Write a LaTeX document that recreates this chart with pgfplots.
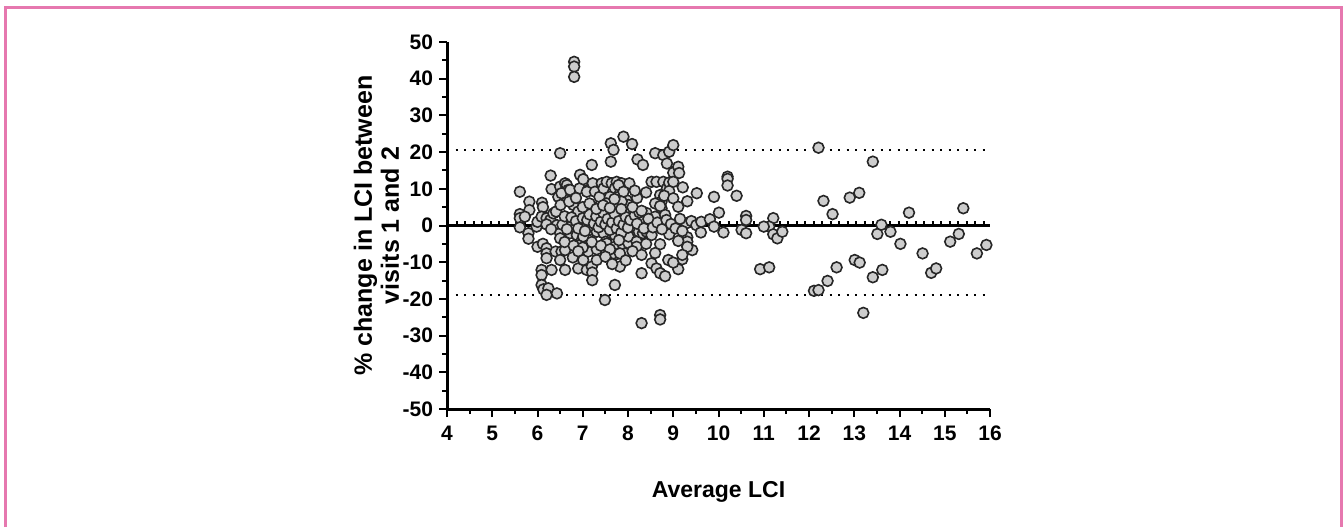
\documentclass[border=0pt]{standalone}
\usepackage{fontspec}
\setmainfont{Liberation Sans}
\usepackage{pgfplots}
\pgfplotsset{compat=1.18}
\definecolor{framepink}{RGB}{230,120,175}
\definecolor{dotfill}{RGB}{205,205,205}

\pgfplotstableread{
x y
5.61 9.2
5.82 6.5
5.82 4.2
5.61 3.1
5.61 2.0
5.72 2.4
5.61 -0.5
5.80 -2.1
5.80 -3.6
5.98 -0.3
6.00 1.0
6.10 6.2
6.12 5.0
6.09 2.4
6.20 2.0
6.28 1.5
6.35 3.3
6.41 3.8
6.29 13.6
6.31 9.9
6.46 7.8
6.50 10.6
6.51 5.6
6.43 0.1
6.50 19.7
6.20 0.3
6.30 -1.0
6.00 -5.8
6.12 -5.0
6.20 -6.2
6.20 -7.6
6.20 -8.9
6.40 -7.1
6.53 -7.1
6.61 -6.7
6.50 -9.4
6.50 -2.1
6.50 -3.5
6.09 -12.1
6.09 -13.5
6.31 -12.1
6.09 -16.2
6.13 -17.4
6.24 -17.1
6.20 -18.9
6.43 -18.5
6.61 -12.1
6.61 11.5
6.65 11.0
6.68 9.7
6.53 8.8
6.72 9.7
6.93 10.1
6.79 5.6
6.90 3.8
6.94 13.8
7.01 12.6
7.12 9.7
6.81 44.6
6.81 43.3
6.81 40.5
6.94 0.6
6.79 0.6
6.70 -0.4
6.72 -2.1
6.87 -2.6
6.98 -4.0
6.94 -5.3
6.78 -8.7
6.90 -11.7
7.01 -9.4
7.20 16.5
7.22 11.5
7.09 9.2
7.27 9.2
7.22 5.1
7.37 7.8
7.42 11.5
7.46 10.1
7.09 0.1
7.16 -1.2
7.31 -1.7
7.46 -2.1
7.01 -3.0
7.12 -7.1
7.09 -12.1
7.20 -11.2
7.21 -12.8
7.21 -14.9
7.31 -9.4
7.31 -6.5
7.51 -4.4
7.49 -20.3
7.53 11.9
7.64 11.5
7.75 11.9
7.86 11.5
8.03 11.5
7.71 10.1
7.82 8.8
7.60 7.8
7.53 6.0
7.75 6.0
7.97 6.9
8.01 5.6
7.90 3.8
8.03 3.3
7.53 3.8
7.68 2.4
7.86 2.0
7.62 22.4
7.68 20.6
7.62 17.4
7.90 24.2
7.79 7.8
7.79 11.0
7.90 9.2
7.86 6.5
7.57 -0.3
7.53 -4.9
7.71 -5.8
7.90 -5.8
7.71 -8.0
7.82 -11.2
7.93 -7.6
7.68 -7.6
7.82 -7.6
8.01 -4.8
8.01 -3.0
7.71 -2.6
7.71 -16.2
8.09 22.2
8.21 18.0
8.33 16.5
8.41 3.4
8.12 -0.3
8.24 -1.7
8.19 -4.4
8.19 -5.8
8.33 -2.1
8.30 -13.0
8.30 -26.6
8.33 1.0
8.41 -1.7
8.52 11.9
8.63 11.9
8.78 11.9
8.86 10.1
8.71 8.3
8.74 6.5
8.60 19.7
8.78 19.2
8.86 16.9
8.60 6.0
8.74 4.7
8.60 2.4
8.82 2.9
8.71 5.3
8.51 0.6
8.52 -2.6
8.71 -5.1
8.89 -9.4
8.52 -10.3
8.63 -11.7
8.71 -13.0
8.82 -13.8
8.71 -24.4
8.71 -25.6
8.91 -2.4
8.91 11.7
8.91 20.1
9.00 21.9
9.00 14.4
8.91 9.4
8.80 8.1
9.00 7.4
9.11 16.0
9.13 14.3
9.00 11.9
9.21 10.4
9.52 8.8
9.31 6.6
9.11 5.1
9.29 0.6
9.40 1.2
9.51 0.1
9.31 -3.2
9.31 -4.4
9.42 -6.7
9.31 -5.8
9.20 -9.2
9.11 -11.9
9.20 -8.0
9.00 -10.1
9.11 -4.2
9.61 -1.9
9.62 1.0
9.81 1.7
9.90 -0.3
9.90 7.8
10.01 3.5
10.11 -1.9
10.20 13.3
10.20 12.7
10.20 10.9
10.40 8.1
10.51 -1.2
10.61 2.6
10.61 1.5
10.61 -2.1
10.92 -11.9
11.12 -11.4
11.21 2.0
11.12 -0.3
11.00 -0.3
11.21 -2.4
11.30 -3.5
11.41 -1.7
12.21 21.2
12.11 -17.8
12.21 -17.6
12.41 -15.1
12.32 6.7
12.52 3.1
12.61 -11.4
12.90 7.6
13.11 8.9
13.01 -9.4
13.12 -10.1
13.20 -23.8
13.41 17.4
13.41 -14.1
13.62 -12.1
13.51 -2.3
13.60 0.2
13.80 -1.7
14.02 -5.0
14.21 3.5
14.51 -7.6
14.70 -12.9
14.81 -11.7
15.12 -4.4
15.31 -2.3
15.41 4.7
15.71 -7.6
15.92 -5.3
6.55 0.2
6.60 2.5
6.65 -1.0
6.75 2.2
6.85 1.2
6.90 -0.8
7.00 2.0
7.05 -1.5
7.10 1.5
7.15 3.0
7.25 0.5
7.30 2.5
7.35 -0.5
7.40 1.0
7.45 3.5
7.50 0.3
7.55 1.8
7.60 -1.2
7.65 0.8
7.70 3.2
7.75 -0.8
7.80 1.2
7.85 -2.0
7.90 0.2
7.95 2.3
8.00 -0.6
8.05 1.5
8.15 2.8
8.20 0.5
8.25 3.6
8.35 -0.8
8.45 1.8
8.55 -0.5
8.65 0.8
8.75 -1.0
8.85 1.5
8.95 0.4
9.05 -0.8
9.15 1.8
9.20 -1.5
6.70 6.5
6.85 7.5
7.00 5.0
7.15 6.0
7.30 4.5
7.45 5.5
7.60 4.8
7.70 7.2
7.85 4.5
8.10 5.0
8.20 7.5
8.30 4.0
8.40 9.0
8.15 9.5
6.60 -4.5
6.80 -5.5
7.00 -6.0
7.20 -4.5
7.40 -5.5
7.60 -6.5
7.80 -4.0
7.95 -9.5
8.10 -7.0
8.30 -8.0
8.40 -5.0
8.60 -7.5
6.90 -7.0
7.50 -8.5
7.65 -10.5
}\lcidata

\begin{document}
\begin{tikzpicture}
\useasboundingbox (0,0) rectangle (671.5pt,263.5pt);
\draw[framepink, line width=1.5pt] (2.75pt,0pt) -- (2.75pt,260pt) -- (670.5pt,260pt) -- (670.5pt,0pt);
\begin{axis}[
  at={(223.5pt,59pt)}, anchor=south west,
  width=271.5pt, height=183.5pt, scale only axis,
  xmin=4, xmax=16, ymin=-50, ymax=50,
  axis lines=left,
  axis line style={-, line width=1.5pt},
  xtick={4,5,...,16}, ytick={-50,-40,...,50},
  minor x tick num=1, minor y tick num=1,
  tick align=outside,
  major tick length=4pt, minor tick length=2.5pt,
  every tick/.style={black, line width=1pt},
  /pgf/number format/assume math mode=true,
  tick label style={font=\fontsize{10.5}{12}\selectfont\bfseries},
  xticklabel style={yshift=-1pt},
  yticklabel style={xshift=0.5pt},
  xlabel={Average LCI},
  ylabel={\% change in LCI between\\visits 1 and 2},
  xlabel style={font=\fontsize{11.5}{13}\selectfont\bfseries, at={(axis description cs:0.5,-0.226)}, anchor=center},
  ylabel style={font=\fontsize{12.5}{13.5}\selectfont\bfseries, align=center, at={(axis description cs:-0.13,0.5)}, anchor=center},
  clip=false,
]
\addplot[black, line width=1.3pt, dash pattern=on 1.1pt off 3.15pt] coordinates {(4,20.6) (16,20.6)};
\addplot[black, line width=1.3pt, dash pattern=on 1.1pt off 3.15pt] coordinates {(4,0.85) (16,0.85)};
\addplot[black, line width=1.3pt, dash pattern=on 1.1pt off 3.15pt] coordinates {(4,-18.9) (16,-18.9)};
\addplot[black, line width=1.2pt] coordinates {(4,0) (16,0)};
\addplot[only marks, mark=*, mark size=2.7pt, mark options={fill=dotfill, draw=black!85, line width=0.8pt}] table[x=x, y=y] {\lcidata};
\end{axis}
\end{tikzpicture}
\end{document}
